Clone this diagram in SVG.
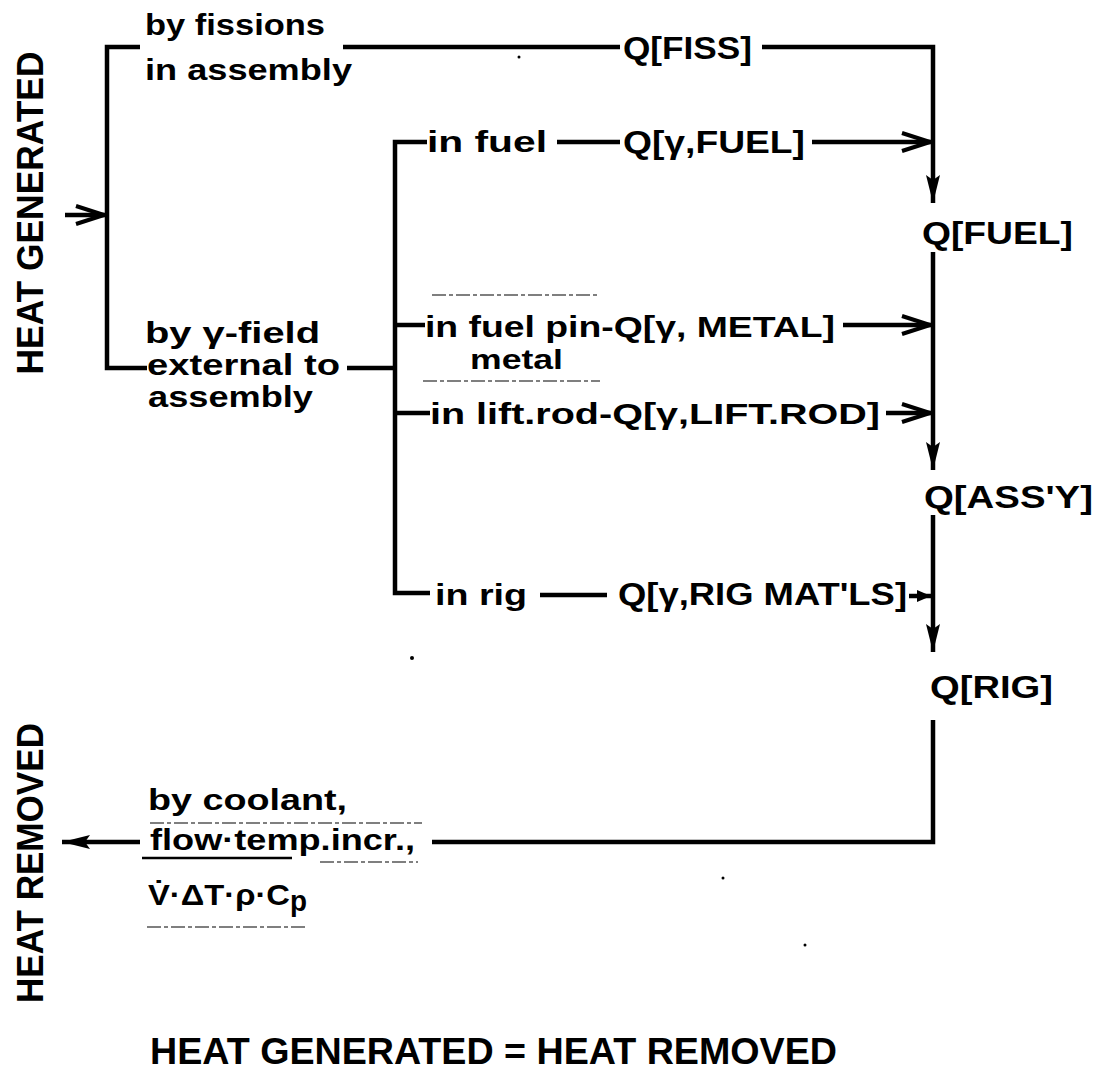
<svg xmlns="http://www.w3.org/2000/svg" width="1109" height="1070" viewBox="0 0 1109 1070">
<defs>
<style>
text{font-family:"Liberation Sans",Arial,sans-serif;font-weight:bold;fill:#000;}
.lc{font-size:30px;}
.sm{font-size:27px;}
.q{font-size:31px;}
.big{font-size:36px;}
.ln{fill:none;stroke:#000;stroke-width:4.5;stroke-linejoin:miter;}
.thin{fill:none;stroke:#000;stroke-width:2.5;}
.faint{fill:none;stroke:#555;stroke-width:1.5;stroke-dasharray:14 3 4 3;}
.speck{fill:#000;}
</style>
<marker id="chev" viewBox="0 0 32 22" refX="31" refY="11" markerWidth="32" markerHeight="22" markerUnits="userSpaceOnUse" orient="auto">
<path d="M2,2 L30,11 L2,20" fill="none" stroke="#000" stroke-width="4"/>
</marker>
<marker id="tri" viewBox="0 0 28 14" refX="28" refY="7" markerWidth="28" markerHeight="14" markerUnits="userSpaceOnUse" orient="auto">
<path d="M0,0 L28,7 L0,14 L5,7 z" fill="#000"/>
</marker>
<marker id="tiny" viewBox="0 0 14 12" refX="14" refY="6" markerWidth="14" markerHeight="12" markerUnits="userSpaceOnUse" orient="auto">
<path d="M0,0 L14,6 L0,12 z" fill="#000"/>
</marker>
</defs>
<rect width="1109" height="1070" fill="#fff"/>

<g id="connectors">
<path class="ln" d="M140,47 H107 V368 H147"/>
<path class="ln" d="M65,215 H105" marker-end="url(#chev)"/>
<path class="ln" d="M343,47 H620"/>
<path class="ln" d="M762,47 H933 V203" marker-end="url(#tri)"/>
<path class="ln" d="M427,142 H395 V593 H430"/>
<path class="ln" d="M347,368 H395"/>
<path class="ln" d="M395,325 H425"/>
<path class="ln" d="M395,413 H430"/>
<path class="ln" d="M557,142 H620"/>
<path class="ln" d="M812,142 H931" marker-end="url(#chev)"/>
<path class="ln" d="M843,325 H931" marker-end="url(#chev)"/>
<path class="ln" d="M886,413 H931" marker-end="url(#chev)"/>
<path class="ln" d="M540,595 H607"/>
<path class="ln" d="M909,596 H931" marker-end="url(#tiny)"/>
<path class="ln" d="M933,252 V470" marker-end="url(#tri)"/>
<path class="ln" d="M933,515 V652" marker-end="url(#tri)"/>
<path class="ln" d="M933,720 V842 H432"/>
<path class="ln" d="M140,842 H62" marker-end="url(#tri)"/>
<path class="thin" d="M142,858 H292"/>
<path class="faint" d="M432,295 H597"/>
<path class="faint" d="M423,381 H600"/>
<path class="faint" d="M150,823 H422"/>
<path class="faint" d="M320,862 H418"/>
<path class="faint" d="M147,927 H307"/>
</g>

<g id="heat-generated">
<text class="big" transform="translate(43,213) rotate(-90)" text-anchor="middle" textLength="323" lengthAdjust="spacingAndGlyphs">HEAT GENERATED</text>
</g>
<g id="heat-removed">
<text class="big" transform="translate(43,863) rotate(-90)" text-anchor="middle" textLength="280" lengthAdjust="spacingAndGlyphs">HEAT REMOVED</text>
</g>

<g id="by-fissions">
<text class="lc" x="145" y="35" textLength="180" lengthAdjust="spacingAndGlyphs">by fissions</text>
<text class="lc" x="145" y="80" textLength="207" lengthAdjust="spacingAndGlyphs">in assembly</text>
</g>
<g id="by-gamma-field">
<text class="lc" x="145" y="343" textLength="175" lengthAdjust="spacingAndGlyphs">by γ-field</text>
<text class="lc" x="147" y="375" textLength="193" lengthAdjust="spacingAndGlyphs">external to</text>
<text class="lc" x="148" y="407" textLength="165" lengthAdjust="spacingAndGlyphs">assembly</text>
</g>

<g id="q-fiss">
<text class="q" x="623" y="59" textLength="129" lengthAdjust="spacingAndGlyphs">Q[FISS]</text>
</g>
<g id="in-fuel">
<text class="lc" x="427" y="152" textLength="120" lengthAdjust="spacingAndGlyphs">in fuel</text>
<text class="q" x="623" y="153" textLength="182" lengthAdjust="spacingAndGlyphs">Q[γ,FUEL]</text>
</g>
<g id="in-fuel-pin">
<text class="lc" x="425" y="337" textLength="410" lengthAdjust="spacingAndGlyphs">in fuel pin-Q[γ, METAL]</text>
<text class="sm" x="470" y="369" textLength="93" lengthAdjust="spacingAndGlyphs">metal</text>
</g>
<g id="in-lift-rod">
<text class="lc" x="430" y="424" textLength="450" lengthAdjust="spacingAndGlyphs">in lift.rod-Q[γ,LIFT.ROD]</text>
</g>
<g id="in-rig">
<text class="lc" x="435" y="605" textLength="92" lengthAdjust="spacingAndGlyphs">in rig</text>
<text class="q" x="618" y="605" textLength="289" lengthAdjust="spacingAndGlyphs">Q[γ,RIG MAT'LS]</text>
</g>

<g id="q-fuel">
<text class="q" x="922" y="244" textLength="151" lengthAdjust="spacingAndGlyphs">Q[FUEL]</text>
</g>
<g id="q-assy">
<text class="q" x="924" y="508" textLength="169" lengthAdjust="spacingAndGlyphs">Q[ASS'Y]</text>
</g>
<g id="q-rig">
<text class="q" x="930" y="698" textLength="123" lengthAdjust="spacingAndGlyphs">Q[RIG]</text>
</g>

<g id="coolant">
<text class="lc" x="148" y="810" textLength="199" lengthAdjust="spacingAndGlyphs">by coolant,</text>
<text class="lc" x="150" y="850" textLength="265" lengthAdjust="spacingAndGlyphs">flow·temp.incr.,</text>
<text class="lc" x="148" y="905" textLength="142" lengthAdjust="spacingAndGlyphs">V̇·ΔT·ρ·C</text>
<text class="lc" x="290" y="911" textLength="17" lengthAdjust="spacingAndGlyphs">p</text>
</g>

<g id="balance">
<text class="big" x="150" y="1064" textLength="687" lengthAdjust="spacingAndGlyphs">HEAT GENERATED = HEAT REMOVED</text>
</g>

<g id="specks">
<circle class="speck" cx="519" cy="57" r="1.5"/>
<circle class="speck" cx="412" cy="658" r="2"/>
<circle class="speck" cx="723" cy="878" r="1.5"/>
<circle class="speck" cx="805" cy="945" r="1.5"/>
</g>
</svg>
